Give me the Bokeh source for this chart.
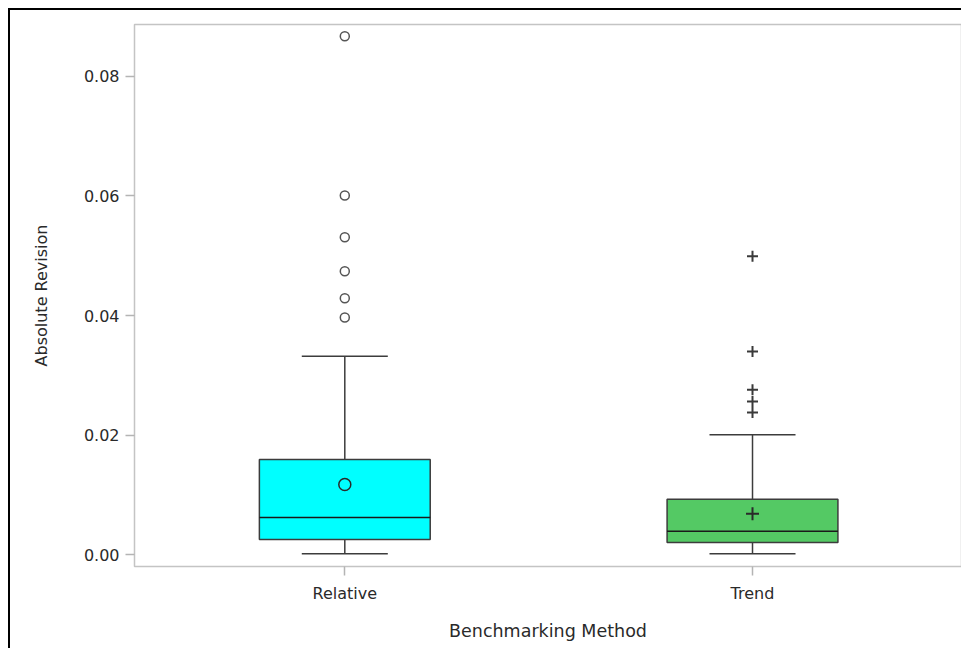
from bokeh.plotting import figure
from bokeh.models import Range1d, FixedTicker, NumeralTickFormatter
from bokeh.embed import file_html
from bokeh.resources import INLINE

# ---- data ----
methods = ["Relative", "Trend"]
positions = [1, 2]
whisker_low = [0.00018, 0.00015]
q1 = [0.00254, 0.00204]
median = [0.00622, 0.00393]
q3 = [0.01592, 0.00928]
whisker_high = [0.03320, 0.02005]
mean = [0.01174, 0.00684]
relative_outliers = [0.03967, 0.04289, 0.04741, 0.05309, 0.06007, 0.08670]
trend_outliers = [0.02378, 0.02562, 0.02758, 0.03398, 0.04992]
fills = ["#00FFFF", "#54C964"]
y_ticks = [0.0, 0.02, 0.04, 0.06, 0.08]

BOX_W = 0.419
CAP_W = 0.211
FONT = "DejaVu Sans"

p = figure(width=953, height=640, output_backend="svg", toolbar_location=None,
           x_range=Range1d(0.4842, 2.5126), y_range=Range1d(-0.00197, 0.08866),
           min_border_left=124, min_border_right=2, min_border_top=14,
           min_border_bottom=84,
           styles={"border-left": "2px solid black", "border-top": "2px solid black",
                   "margin-left": "8px", "margin-top": "8px"})

p.background_fill_color = "white"
p.border_fill_color = "white"
p.outline_line_color = "#c4c4c4"
p.outline_line_width = 1.5
p.xgrid.visible = False
p.ygrid.visible = False

# axes
for ax in (p.xaxis[0], p.yaxis[0]):
    ax.axis_line_color = None
    ax.major_tick_line_color = "#b4b4b4"
    ax.major_tick_line_width = 1.5
    ax.major_tick_in = 0
    ax.major_tick_out = 9
    ax.minor_tick_line_color = None
    ax.major_label_text_font = FONT
    ax.major_label_text_font_size = "16px"
    ax.major_label_text_color = "#2a2a2a"
    ax.axis_label_text_font = FONT
    ax.axis_label_text_font_size = "16px"
    ax.axis_label_text_font_style = "normal"
    ax.axis_label_text_color = "#2a2a2a"

p.xaxis.ticker = FixedTicker(ticks=positions)
p.xaxis.major_label_overrides = {pos: m for pos, m in zip(positions, methods)}
p.xaxis.axis_label = "Benchmarking Method"
p.xaxis.axis_label_text_font_size = "17.5px"
p.xaxis.major_label_standoff = 8
p.xaxis.axis_label_standoff = 15

p.yaxis.ticker = FixedTicker(ticks=y_ticks)
p.yaxis.formatter = NumeralTickFormatter(format="0.00")
p.yaxis.axis_label = "Absolute Revision"
p.yaxis.major_label_standoff = 6
p.yaxis.axis_label_standoff = 30

line_col = "#3c3c3c"

# whiskers
p.segment(x0=positions, x1=positions, y0=q3, y1=whisker_high, line_color=line_col, line_width=1.5)
p.segment(x0=positions, x1=positions, y0=q1, y1=whisker_low, line_color=line_col, line_width=1.5)
p.segment(x0=[x - CAP_W / 2 for x in positions], x1=[x + CAP_W / 2 for x in positions],
          y0=whisker_high, y1=whisker_high, line_color=line_col, line_width=1.5)
p.segment(x0=[x - CAP_W / 2 for x in positions], x1=[x + CAP_W / 2 for x in positions],
          y0=whisker_low, y1=whisker_low, line_color=line_col, line_width=1.5)

# boxes
p.vbar(x=positions, width=BOX_W, bottom=q1, top=q3, fill_color=fills,
       line_color=line_col, line_width=1.5)
# medians
p.segment(x0=[x - BOX_W / 2 for x in positions], x1=[x + BOX_W / 2 for x in positions],
          y0=median, y1=median, line_color="#1a1a1a", line_width=1.5)

# means
p.scatter(x=[positions[0]], y=[mean[0]], marker="circle", size=12, fill_color=None,
          line_color="#2a2a2a", line_width=1.5)
p.scatter(x=[positions[1]], y=[mean[1]], marker="cross", size=13,
          line_color="#2a2a2a", line_width=2)

# outliers
p.scatter(x=[positions[0]] * len(relative_outliers), y=relative_outliers, marker="circle",
          size=9, fill_color=None, line_color="#555555", line_width=1.5)
p.scatter(x=[positions[1]] * len(trend_outliers), y=trend_outliers, marker="cross",
          size=11, line_color="#3a3a3a", line_width=2)

open("out.html", "w").write(file_html(p, INLINE))
